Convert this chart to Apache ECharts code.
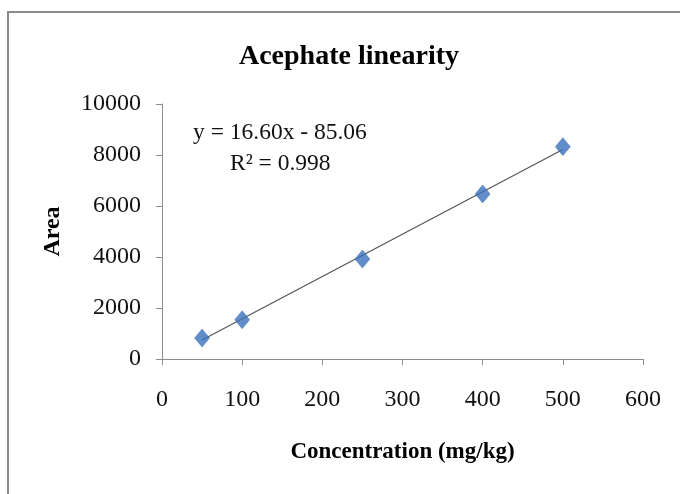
<!DOCTYPE html>
<html>
<head>
<meta charset="utf-8">
<script src="https://cdn.jsdelivr.net/npm/echarts@6/dist/echarts.min.js"></script>
<style>
html,body{margin:0;padding:0;background:#fff;}
#frame{position:absolute;left:7px;top:11px;width:700px;height:520px;border:2px solid #8c8c8c;box-sizing:border-box;}
#chart{position:absolute;left:0;top:0;width:680px;height:494px;}
</style>
</head>
<body>
<div id="frame"></div>
<div id="chart"></div>
<script>
const concentration = [50, 100, 250, 400, 500];
const area = [822, 1539, 3917, 6475, 8328];
const slope = 16.60;
const intercept = -85.06;
const r2 = 0.998;
const xTicks = [0, 100, 200, 300, 400, 500, 600];
const yTicks = [0, 2000, 4000, 6000, 8000, 10000];

const trendX = [concentration[0], concentration[concentration.length - 1]];
const trend = trendX.map(x => [x, slope * x + intercept]);

const chart = echarts.init(document.getElementById('chart'), null, {renderer: 'canvas'});
const serif = '"Liberation Serif", "Times New Roman", serif';
chart.setOption({
  backgroundColor: 'transparent',
  animation: false,
  title: {
    text: 'Acephate linearity',
    left: 344, top: 38, textAlign: 'center',
    textStyle: {fontFamily: serif, fontWeight: 'bold', fontSize: 28, color: '#000'}
  },
  grid: {left: 162, right: 37, top: 104, bottom: 135},
  xAxis: {
    type: 'value', min: xTicks[0], max: xTicks[xTicks.length - 1], interval: 100,
    name: 'Concentration (mg/kg)', nameLocation: 'middle', nameGap: 82,
    nameTextStyle: {fontFamily: serif, fontWeight: 'bold', fontSize: 23, color: '#000'},
    axisLine: {show: true, lineStyle: {color: '#8c8c8c', width: 1}},
    axisTick: {show: true, inside: false, length: 6, lineStyle: {color: '#8c8c8c'}},
    axisLabel: {fontFamily: serif, fontSize: 24, color: '#111', margin: 29},
    splitLine: {show: false}
  },
  yAxis: {
    type: 'value', min: yTicks[0], max: yTicks[yTicks.length - 1], interval: 2000,
    name: 'Area', nameLocation: 'middle', nameGap: 97, nameRotate: 90,
    nameTextStyle: {fontFamily: serif, fontWeight: 'bold', fontSize: 24, color: '#000'},
    axisLine: {show: true, lineStyle: {color: '#8c8c8c', width: 1}},
    axisTick: {show: true, inside: false, length: 6, lineStyle: {color: '#8c8c8c'}},
    axisLabel: {fontFamily: serif, fontSize: 24, color: '#111', margin: 21,
      formatter: v => String(v)},
    splitLine: {show: false}
  },
  series: [
    {
      type: 'line', data: trend, symbol: 'none', silent: true, z: 2,
      lineStyle: {color: '#555', width: 1.2}
    },
    {
      type: 'scatter', z: 3,
      data: concentration.map((x, i) => [x, area[i]]),
      symbol: 'diamond', symbolSize: [15, 18],
      itemStyle: {color: '#3a72bd', borderColor: '#2f62a6', borderWidth: 0.5}
    }
  ],
  graphic: [
    {type: 'text', left: 193, top: 121,
     style: {text: 'y = ' + slope.toFixed(2) + 'x - ' + Math.abs(intercept).toFixed(2), font: '23.5px ' + serif, fill: '#111'}},
    {type: 'text', left: 230, top: 152,
     style: {text: 'R² = ' + r2.toFixed(3), font: '23.5px ' + serif, fill: '#111'}}
  ]
});
</script>
</body>
</html>
